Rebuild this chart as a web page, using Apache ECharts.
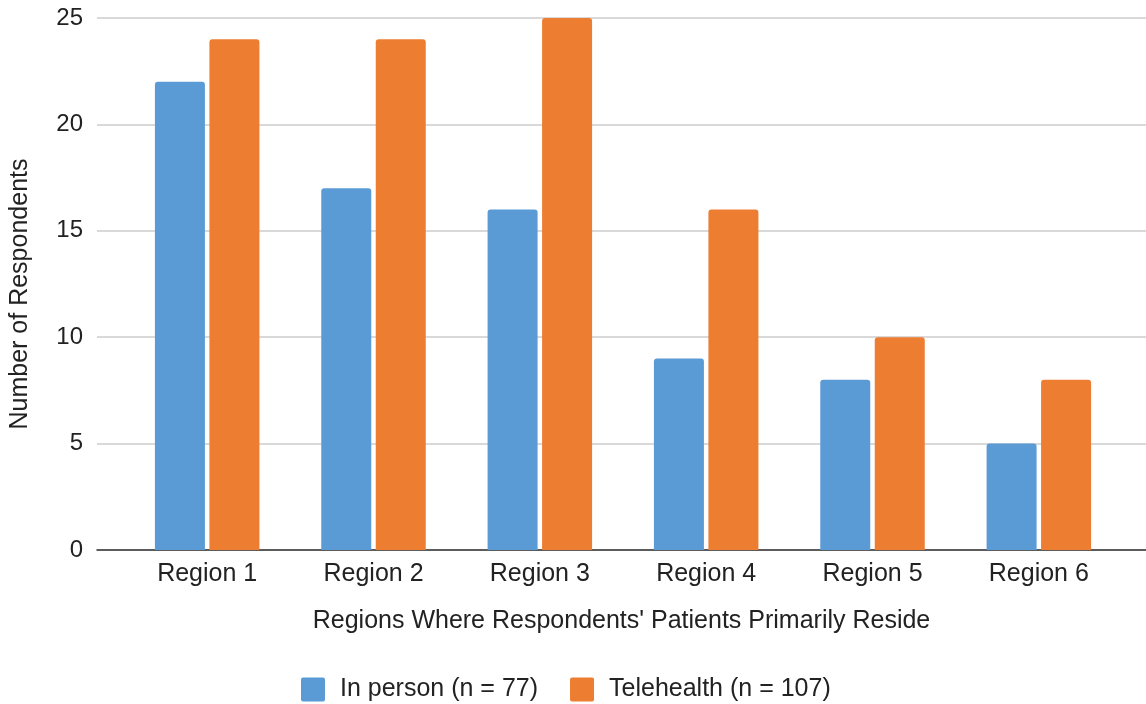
<!DOCTYPE html>
<html>
<head>
<meta charset="utf-8">
<script src="https://cdn.jsdelivr.net/npm/echarts@6/dist/echarts.min.js"></script>
<style>
  html, body { margin: 0; padding: 0; background: #fff; }
  #chart { width: 1146px; height: 704px; }
</style>
</head>
<body>
<div id="chart"></div>
<script>
// Respondent counts by region
const categories = ['Region 1', 'Region 2', 'Region 3', 'Region 4', 'Region 5', 'Region 6'];
const inPerson = [22, 17, 16, 9, 8, 5];
const telehealth = [24, 24, 25, 16, 10, 8];
const seriesNames = ['In person (n = 77)', 'Telehealth (n = 107)'];
const yTicks = { min: 0, max: 25, interval: 5 };

const FONT = '"Liberation Sans", Arial, Helvetica, sans-serif';
const TEXT = '#222';
// square legend swatch with slightly rounded corners
const SWATCH = 'path://M2,0 H22 Q24,0 24,2 V22 Q24,24 22,24 H2 Q0,24 0,22 V2 Q0,0 2,0 Z';

const chart = echarts.init(document.getElementById('chart'), null, { renderer: 'canvas' });

chart.setOption({
  backgroundColor: '#fff',
  textStyle: { fontFamily: FONT, color: TEXT },
  animation: false,
  legend: {
    left: 296,
    top: 672,
    itemWidth: 24,
    itemHeight: 24,
    itemGap: 32,
    icon: SWATCH,
    textStyle: { fontSize: 25, color: TEXT, fontFamily: FONT, padding: [0, 0, 0, 10] },
    data: seriesNames
  },
  grid: [
    // full-width frame: gridlines, value axis and baseline
    { left: 96, right: 0, top: 18, bottom: 154 },
    // inner band where the category groups sit
    { left: 124, right: 24, top: 18, bottom: 154 }
  ],
  xAxis: [
    {
      gridIndex: 0,
      type: 'category',
      data: categories,
      axisLine: { show: true, lineStyle: { color: '#333', width: 1.5 } },
      axisTick: { show: false },
      axisLabel: { show: false },
      name: "Regions Where Respondents' Patients Primarily Reside",
      nameLocation: 'middle',
      nameGap: 59,
      nameTextStyle: { fontSize: 25, color: TEXT, fontFamily: FONT }
    },
    {
      gridIndex: 1,
      type: 'category',
      data: categories,
      axisLine: { show: false },
      axisTick: { show: false },
      axisLabel: { fontSize: 25, color: TEXT, fontFamily: FONT, margin: 12 }
    }
  ],
  yAxis: [
    {
      gridIndex: 0,
      type: 'value',
      min: yTicks.min,
      max: yTicks.max,
      interval: yTicks.interval,
      axisLine: { show: false },
      axisTick: { show: false },
      axisLabel: { fontSize: 24, color: TEXT, fontFamily: FONT, margin: 14 },
      splitLine: { lineStyle: { color: '#ccc', width: 1.5 } },
      name: 'Number of Respondents',
      nameLocation: 'middle',
      nameGap: 64,
      nameTextStyle: { fontSize: 25, color: TEXT, fontFamily: FONT, padding: [0, 20, 0, 0] }
    },
    {
      gridIndex: 1,
      type: 'value',
      min: yTicks.min,
      max: yTicks.max,
      interval: yTicks.interval,
      show: false,
      splitLine: { show: false }
    }
  ],
  series: [
    {
      name: seriesNames[0],
      type: 'bar',
      xAxisIndex: 1,
      yAxisIndex: 1,
      data: inPerson,
      barWidth: 50,
      barGap: '9%',
      itemStyle: { color: '#5b9bd5', borderRadius: [3, 3, 0, 0] }
    },
    {
      name: seriesNames[1],
      type: 'bar',
      xAxisIndex: 1,
      yAxisIndex: 1,
      data: telehealth,
      barWidth: 50,
      barGap: '9%',
      itemStyle: { color: '#ed7d31', borderRadius: [3, 3, 0, 0] }
    }
  ]
});
</script>
</body>
</html>
